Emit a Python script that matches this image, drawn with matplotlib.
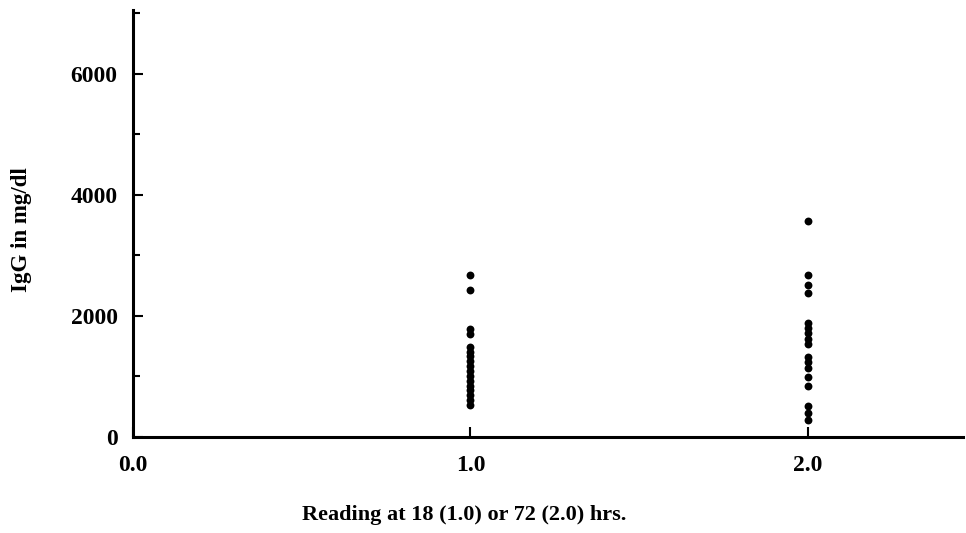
import matplotlib
matplotlib.use("Agg")
import matplotlib.pyplot as plt
from matplotlib.ticker import MultipleLocator

# Data
igg_18h = [2680, 2430, 1785, 1700, 1490, 1410, 1330, 1250, 1170, 1090, 1010,
           930, 850, 770, 690, 610, 530]
x_18h = [1.0] * len(igg_18h)
igg_72h = [3570, 2680, 2510, 2370, 1890, 1800, 1710, 1620, 1530, 1320, 1240,
           1140, 990, 850, 510, 400, 280]
x_72h = [2.0] * len(igg_72h)

xticks = [0.0, 1.0, 2.0]
xticklabels = ["0.0", "1.0", "2.0"]
yticks = [0, 2000, 4000, 6000]

plt.rcParams['font.family'] = ['Liberation Serif', 'DejaVu Serif']
plt.rcParams['font.weight'] = 'bold'

W, H = 966, 533
fig = plt.figure(figsize=(W / 100, H / 100), dpi=100)
ax = fig.add_axes([133 / W, (H - 437) / H, (963 - 133) / W, (437 - 10) / H])

ax.scatter(x_18h, igg_18h, s=32, color='black', zorder=3, clip_on=False, linewidths=0)
ax.scatter(x_72h, igg_72h, s=32, color='black', zorder=3, clip_on=False, linewidths=0)

ax.set_xlim(0, 2.46)
ax.set_ylim(0, 7050)
for s in ['top', 'right']:
    ax.spines[s].set_visible(False)
for s in ['left', 'bottom']:
    ax.spines[s].set_linewidth(2.2)

ax.set_xticks(xticks)
ax.set_xticklabels(xticklabels)
ax.set_yticks(yticks)
ax.yaxis.set_minor_locator(MultipleLocator(1000))
ax.tick_params(axis='both', which='both', direction='in', width=1.5)
ax.tick_params(axis='y', which='major', length=7, labelsize=17, pad=11)
ax.tick_params(axis='y', which='minor', length=5)
ax.tick_params(axis='x', which='major', length=7, labelsize=17, pad=13)

ax.set_xlabel("Reading at 18 (1.0) or 72 (2.0) hrs.", fontsize=16, fontweight='bold')
ax.xaxis.set_label_coords((464 - 133) / 830, -(515 - 437) / 427, transform=ax.transAxes)
ax.xaxis.label.set_va('center')
ax.set_ylabel("IgG in mg/dl", fontsize=16.5, fontweight='bold')
ax.yaxis.set_label_coords(-(133 - 22) / 830, (437 - 230) / 427, transform=ax.transAxes)
ax.yaxis.label.set_va('center')

fig.savefig("out.png", dpi=100)
